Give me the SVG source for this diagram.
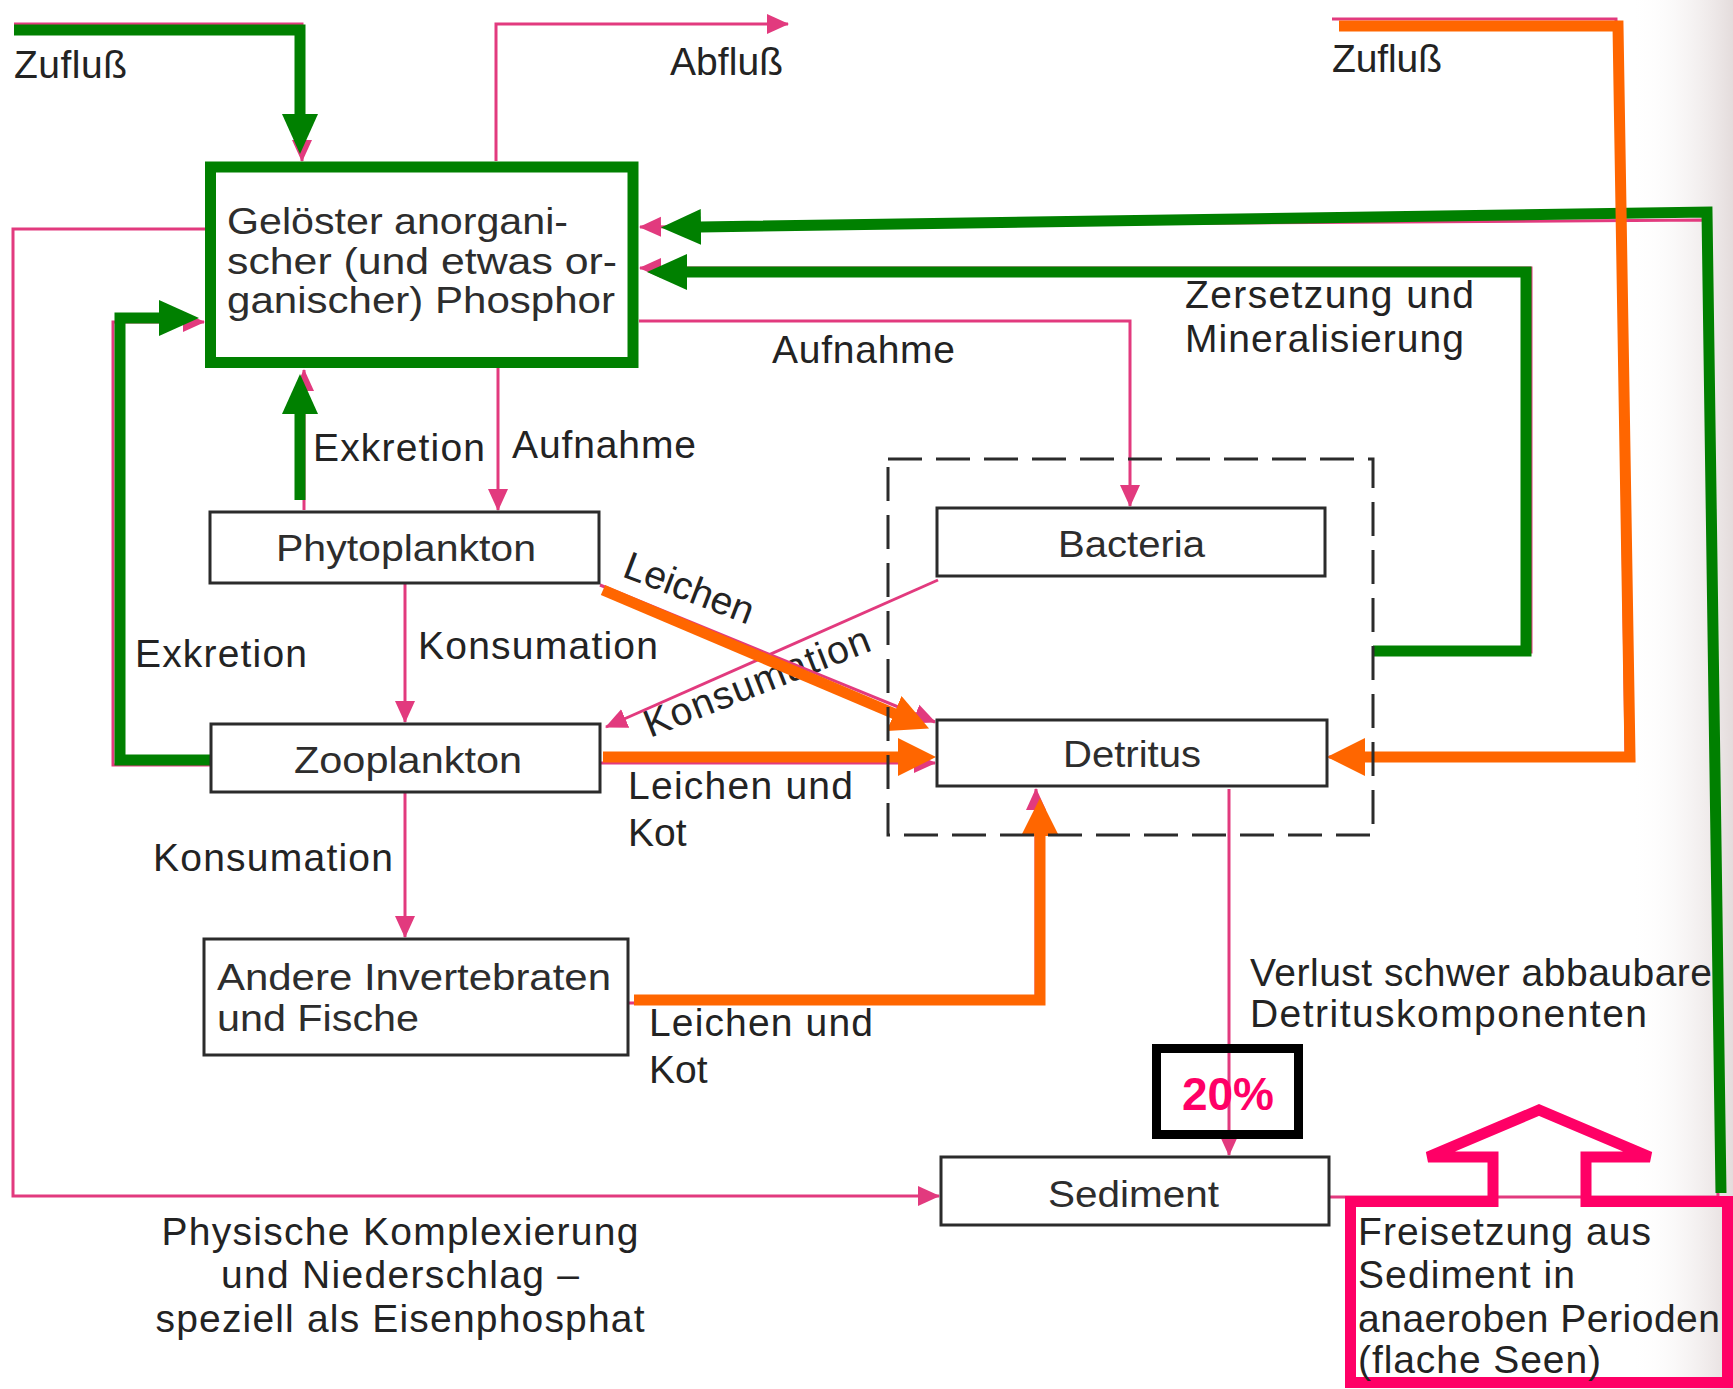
<svg xmlns="http://www.w3.org/2000/svg" width="1733" height="1389" viewBox="0 0 1733 1389">
  <defs>
    <linearGradient id="pageEdge" x1="0" y1="0" x2="1" y2="0">
      <stop offset="0" stop-color="#ffffff" stop-opacity="0"/>
      <stop offset="1" stop-color="#e4dcdc"/>
    </linearGradient>
    <marker id="tipPink" markerUnits="userSpaceOnUse" markerWidth="22" markerHeight="22" viewBox="0 0 22 22" refX="21" refY="11" orient="auto">
      <path d="M0,1 L22,11 L0,21 Z" fill="#e23a7e"/>
    </marker>
    <marker id="tipGreen" markerUnits="userSpaceOnUse" markerWidth="40" markerHeight="38" viewBox="0 0 40 38" refX="1" refY="19" orient="auto">
      <path d="M0,1 L40,19 L0,37 Z" fill="#008000"/>
    </marker>
    <marker id="tipOrange" markerUnits="userSpaceOnUse" markerWidth="38" markerHeight="38" viewBox="0 0 38 38" refX="1" refY="19" orient="auto">
      <path d="M0,0 L38,19 L0,38 Z" fill="#ff6600"/>
    </marker>
    <style>
      .pk { fill: none; stroke: #e23a7e; stroke-width: 3; }
      .gr { fill: none; stroke: #008000; stroke-width: 11; stroke-linejoin: miter; }
      .or { fill: none; stroke: #ff6600; stroke-width: 11; stroke-linejoin: miter; }
      .node rect { fill: #ffffff; stroke: #2b2b2b; stroke-width: 3; }
      .bt { font-family: "Liberation Sans", Arial, sans-serif; font-size: 36px; fill: #2d2d2d; }
      .lb { font-family: "Liberation Sans", Arial, sans-serif; font-size: 39px; fill: #232323; }
      .hl { fill: none; stroke: #ff0066; stroke-width: 11; stroke-linejoin: miter; }
    </style>
  </defs>

  <rect width="1733" height="1389" fill="#ffffff"/>
  <!-- shaded page edge on the right -->
  <rect x="1630" y="0" width="103" height="1389" fill="url(#pageEdge)"/>

  <!-- labels -->
  <g id="labels">
    <text class="lb" x="14" y="78" textLength="113">Zufluß</text>
    <text class="lb" x="670" y="75" textLength="113">Abfluß</text>
    <text class="lb" x="1332" y="72" textLength="110">Zufluß</text>
    <text class="lb" x="313" y="461" textLength="172">Exkretion</text>
    <text class="lb" x="512" y="458" textLength="184">Aufnahme</text>
    <text class="lb" x="772" y="363" textLength="183">Aufnahme</text>
    <text class="lb" x="1185" y="308" textLength="289">Zersetzung und</text>
    <text class="lb" x="1185" y="352" textLength="279">Mineralisierung</text>
    <text class="lb" x="135" y="667" textLength="172">Exkretion</text>
    <text class="lb" x="418" y="659" textLength="240">Konsumation</text>
    <text class="lb" x="153" y="871" textLength="240">Konsumation</text>
    <text class="lb" x="628" y="799" textLength="225">Leichen und</text>
    <text class="lb" x="628" y="846">Kot</text>
    <text class="lb" x="649" y="1036" textLength="224">Leichen und</text>
    <text class="lb" x="649" y="1083">Kot</text>
    <text class="lb" transform="translate(621,576) rotate(21)" textLength="136">Leichen</text>
    <text class="lb" transform="translate(650,738) rotate(-21.5)" textLength="240">Konsumation</text>
    <text class="lb" x="1250" y="986" textLength="462">Verlust schwer abbaubare</text>
    <text class="lb" x="1250" y="1027" textLength="397">Detrituskomponenten</text>
    <text class="lb" x="400" y="1245" text-anchor="middle" textLength="477">Physische Komplexierung</text>
    <text class="lb" x="400" y="1288" text-anchor="middle" textLength="358">und Niederschlag –</text>
    <text class="lb" x="400" y="1332" text-anchor="middle" textLength="489">speziell als Eisenphosphat</text>
  </g>

  <!-- flow lines -->
  <g id="connectors">
    <g id="phosphor-flows">
      <path class="pk" d="M14,24 H302 V161" marker-end="url(#tipPink)"/>
      <path class="pk" d="M496,161 V24 H788" marker-end="url(#tipPink)"/>
      <path class="pk" d="M205,229 H13 V1196 H939" marker-end="url(#tipPink)"/>
      <path class="pk" d="M498,368 V510" marker-end="url(#tipPink)"/>
      <path class="pk" d="M304,510 V370" marker-end="url(#tipPink)"/>
      <path class="pk" d="M639,321 H1130 V506" marker-end="url(#tipPink)"/>
      <path class="pk" d="M405,583 V722" marker-end="url(#tipPink)"/>
      <path class="pk" d="M938,580 L606,727" marker-end="url(#tipPink)"/>
      <path class="pk" d="M405,793 V937" marker-end="url(#tipPink)"/>
      <path class="pk" d="M211,765 H113 V322 H204" marker-end="url(#tipPink)"/>
      <path class="pk" d="M1373,652 H1531 V268 H640" marker-end="url(#tipPink)"/>
      <path class="pk" d="M1330,1197 H1718 L1705,220 L640,227" marker-end="url(#tipPink)"/>
      <path class="pk" d="M1332,19 H1616 L1626,757 H1329" marker-end="url(#tipPink)"/>
      <path class="pk" d="M600,585 L935,722" marker-end="url(#tipPink)"/>
      <path class="pk" d="M601,763 H935" marker-end="url(#tipPink)"/>
      <path class="pk" d="M628,1003 H1036 V789" marker-end="url(#tipPink)"/>
      <path class="pk" d="M1229,789 V1155" marker-end="url(#tipPink)"/>
    </g>
    <g id="return-flows">
      <path class="gr" d="M14,30 H300 V115" marker-end="url(#tipGreen)"/>
      <path class="gr" d="M300,500 V413" marker-end="url(#tipGreen)"/>
      <path class="gr" d="M211,760 H120 V318 H160" marker-end="url(#tipGreen)"/>
      <path class="gr" d="M1373,651 H1526 V272 H686" marker-end="url(#tipGreen)"/>
      <path class="gr" d="M1721,1193 L1707,212 L700,227" marker-end="url(#tipGreen)"/>
    </g>
    <g id="detritus-flows">
      <path class="or" d="M1339,26 H1618 L1630,757 H1364" marker-end="url(#tipOrange)"/>
      <path class="or" d="M603,590 L895,714" marker-end="url(#tipOrange)"/>
      <path class="or" d="M603,757 H899" marker-end="url(#tipOrange)"/>
      <path class="or" d="M634,1000 H1040 V835" marker-end="url(#tipOrange)"/>
    </g>
  </g>

  <!-- compartments -->
  <g id="dissolved-p">
    <rect x="210.5" y="167" width="422.5" height="195.5" fill="#ffffff" stroke="#008000" stroke-width="11"/>
    <text class="bt" x="227" y="234" textLength="341" lengthAdjust="spacingAndGlyphs">Gelöster anorgani-</text>
    <text class="bt" x="227" y="274" textLength="390" lengthAdjust="spacingAndGlyphs">scher (und etwas or-</text>
    <text class="bt" x="227" y="313" textLength="388" lengthAdjust="spacingAndGlyphs">ganischer) Phosphor</text>
  </g>
  <g id="phytoplankton" class="node">
    <rect x="210" y="512" width="389" height="71"/>
    <text class="bt" x="276" y="561" textLength="260" lengthAdjust="spacingAndGlyphs">Phytoplankton</text>
  </g>
  <g id="zooplankton" class="node">
    <rect x="211" y="724" width="389" height="68"/>
    <text class="bt" x="294" y="773" textLength="228" lengthAdjust="spacingAndGlyphs">Zooplankton</text>
  </g>
  <g id="invertebrates" class="node">
    <rect x="204" y="939" width="424" height="116"/>
    <text class="bt" x="217" y="990" textLength="394" lengthAdjust="spacingAndGlyphs">Andere Invertebraten</text>
    <text class="bt" x="217" y="1031" textLength="202" lengthAdjust="spacingAndGlyphs">und Fische</text>
  </g>
  <g id="decomposers">
    <rect x="888" y="459" width="485" height="376" fill="none" stroke="#2b2b2b" stroke-width="3" stroke-dasharray="34 14"/>
  </g>
  <g id="bacteria" class="node">
    <rect x="937" y="508" width="388" height="68"/>
    <text class="bt" x="1058" y="557" textLength="147" lengthAdjust="spacingAndGlyphs">Bacteria</text>
  </g>
  <g id="detritus" class="node">
    <rect x="937" y="720" width="390" height="66"/>
    <text class="bt" x="1063" y="767" textLength="138" lengthAdjust="spacingAndGlyphs">Detritus</text>
  </g>
  <g id="sediment" class="node">
    <rect x="941" y="1157" width="388" height="68"/>
    <text class="bt" x="1048" y="1207" textLength="171" lengthAdjust="spacingAndGlyphs">Sediment</text>
  </g>

  <!-- loss share -->
  <g id="loss-share">
    <rect x="1156.5" y="1048.5" width="142" height="86" fill="none" stroke="#000000" stroke-width="9"/>
    <text x="1228" y="1110" text-anchor="middle" font-family="Liberation Sans, Arial, sans-serif" font-weight="bold" font-size="46" fill="#ff0066">20%</text>
  </g>

  <!-- release from sediment -->
  <g id="release">
    <path class="hl" d="M1493,1201.5 V1157 H1428 L1539,1110 L1650,1157 H1586 V1201.5 H1727.5 V1382.5 H1350.5 V1201.5 Z"/>
    <text class="lb" x="1358" y="1245" textLength="293">Freisetzung aus</text>
    <text class="lb" x="1358" y="1288" textLength="217">Sediment in</text>
    <text class="lb" x="1358" y="1332" textLength="362">anaeroben Perioden</text>
    <text class="lb" x="1358" y="1373" textLength="243">(flache Seen)</text>
  </g>
</svg>
